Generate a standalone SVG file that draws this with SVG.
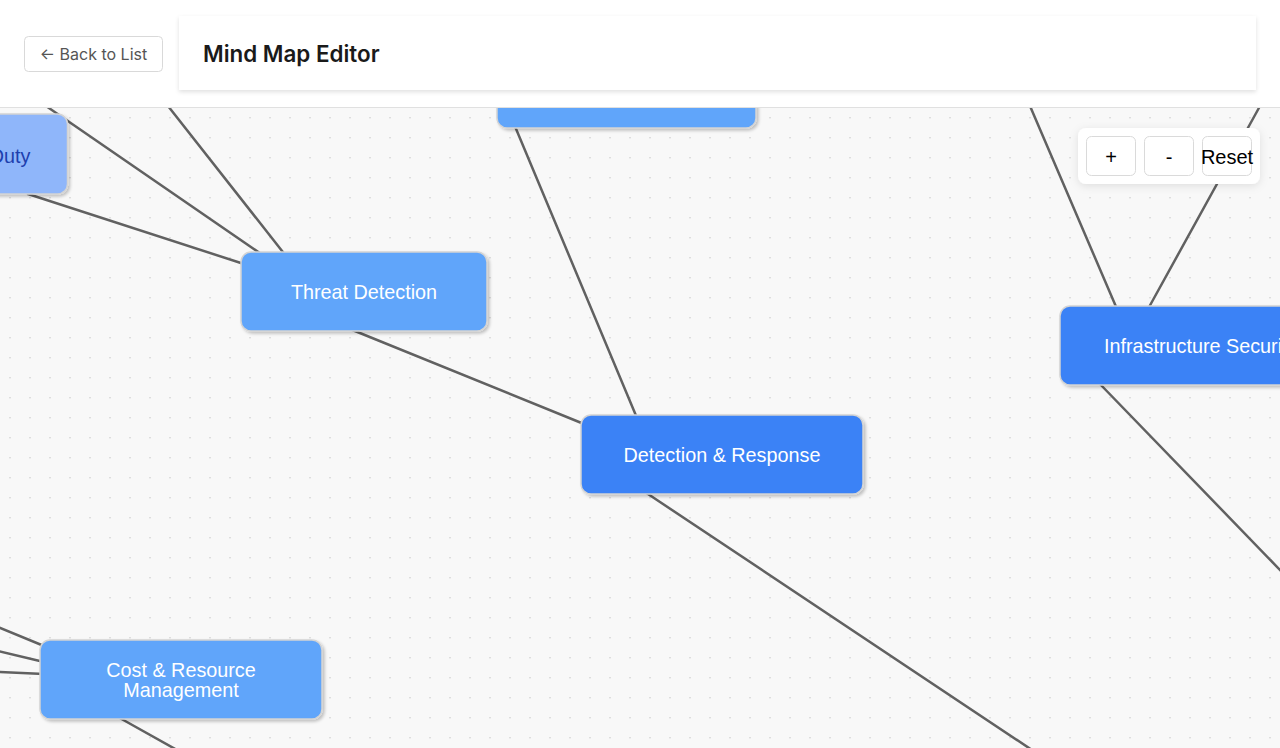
<svg xmlns="http://www.w3.org/2000/svg" width="1280" height="748" viewBox="0 0 1280 748">
  <defs>
    <pattern id="dots" x="0" y="0" width="20" height="20" patternUnits="userSpaceOnUse">
      <rect x="9.3" y="17" width="1.4" height="1.4" fill="#d2d2d2"/>
    </pattern>
    <filter id="nodeShadow" x="-10%" y="-20%" width="125%" height="150%">
      <feDropShadow dx="2" dy="2" stdDeviation="1.5" flood-color="#000" flood-opacity="0.22"/>
    </filter>
    <filter id="cardShadow" x="-5%" y="-20%" width="110%" height="160%">
      <feDropShadow dx="0" dy="2" stdDeviation="2" flood-color="#000" flood-opacity="0.12"/>
    </filter>
    <filter id="panelShadow" x="-20%" y="-30%" width="140%" height="170%">
      <feDropShadow dx="0" dy="2" stdDeviation="4" flood-color="#000" flood-opacity="0.1"/>
    </filter>
    <style>
      .edge { stroke: #616161; stroke-width: 2.5; fill: none; stroke-linecap: round; }
      .node { stroke: #d4d4d4; stroke-width: 1.5; filter: url(#nodeShadow); }
      .primary { fill: #3b82f6; }
      .secondary { fill: #60a5fa; }
      .tertiary { fill: #8fb6fa; }
      .label { font-family: "Liberation Sans", Arial, sans-serif; font-size: 19.8px; fill: #ffffff; text-anchor: middle; }
      .label-dark { font-family: "Liberation Sans", Arial, sans-serif; font-size: 19.8px; fill: #1e3fae; }
      .btn { fill: #ffffff; stroke: #dadada; stroke-width: 1; }
      .btn-text { font-family: "Liberation Sans", Arial, sans-serif; font-size: 20px; fill: #000; text-anchor: middle; }
    </style>
  </defs>

  <!-- canvas background -->
  <rect x="0" y="0" width="1280" height="748" fill="#f8f8f8"/>
  <rect x="0" y="107" width="1280" height="641" fill="url(#dots)"/>

  <!-- connectors -->
  <g id="connectors">
    <line class="edge" x1="46" y1="106" x2="264" y2="256"/>
    <line class="edge" x1="168" y1="106" x2="286" y2="256"/>
    <line class="edge" x1="28" y1="194" x2="244" y2="264"/>
    <line class="edge" x1="350" y1="329" x2="584" y2="424"/>
    <line class="edge" x1="514" y1="124" x2="637" y2="418"/>
    <line class="edge" x1="645" y1="492" x2="1032" y2="750"/>
    <line class="edge" x1="1030" y1="106" x2="1117" y2="309"/>
    <line class="edge" x1="1260" y1="106" x2="1148" y2="309"/>
    <line class="edge" x1="1099" y1="383" x2="1282" y2="572"/>
    <line class="edge" x1="-2" y1="627" x2="44" y2="646"/>
    <line class="edge" x1="-2" y1="651" x2="44" y2="662"/>
    <line class="edge" x1="-2" y1="672" x2="44" y2="674"/>
    <line class="edge" x1="118" y1="717" x2="177" y2="750"/>
  </g>

  <!-- nodes -->
  <g id="node-top">
    <rect class="node secondary" x="497" y="48" width="259" height="80" rx="10"/>
  </g>
  <g id="node-duty">
    <rect class="node tertiary" x="-200" y="114" width="267.5" height="80" rx="10"/>
    <text class="label-dark" x="30.5" y="162.5" text-anchor="end">Duty</text>
  </g>
  <g id="node-threat-detection">
    <rect class="node secondary" x="241" y="252" width="246" height="79" rx="10"/>
    <text class="label" x="364" y="299">Threat Detection</text>
  </g>
  <g id="node-detection-response">
    <rect class="node primary" x="581" y="415" width="282" height="79" rx="10"/>
    <text class="label" x="722" y="462.3">Detection &amp; Response</text>
  </g>
  <g id="node-infrastructure-security">
    <rect class="node primary" x="1060" y="306" width="280" height="79" rx="10"/>
    <text class="label" x="1104" y="353.3" text-anchor="start" style="text-anchor:start">Infrastructure Security</text>
  </g>
  <g id="node-cost-resource">
    <rect class="node secondary" x="40" y="640" width="282" height="79" rx="10"/>
    <text class="label" x="181" y="677.3">Cost &amp; Resource</text>
    <text class="label" x="181" y="697.3">Management</text>
  </g>

  <!-- header -->
  <g id="header">
    <rect x="0" y="0" width="1280" height="107" fill="#ffffff"/>
    <line x1="0" y1="107.5" x2="1280" y2="107.5" stroke="#e0e0e0" stroke-width="1"/>
    <g id="back-button">
      <rect x="24.5" y="36.5" width="138" height="35" rx="4" fill="#ffffff" stroke="#d9d9d9" stroke-width="1"/>
      <text x="93.5" y="60" font-family="Inter, 'Noto Sans', sans-serif" font-size="16" fill="#555555" text-anchor="middle">← Back to List</text>
    </g>
    <g id="title-card">
      <rect x="179" y="16" width="1077" height="74" fill="#ffffff" filter="url(#cardShadow)"/>
      <text x="203" y="61.7" font-family="Inter, 'Noto Sans', sans-serif" font-size="22.4" font-weight="600" fill="#1a1a1a">Mind Map Editor</text>
    </g>
  </g>

  <!-- zoom controls -->
  <g id="controls">
    <rect x="1078" y="128" width="182" height="56" rx="8" fill="#ffffff" filter="url(#panelShadow)"/>
    <g id="btn-zoom-in">
      <rect class="btn" x="1086.5" y="136.5" width="49" height="39" rx="5"/>
      <text class="btn-text" x="1111" y="164">+</text>
    </g>
    <g id="btn-zoom-out">
      <rect class="btn" x="1144.5" y="136.5" width="49" height="39" rx="5"/>
      <text class="btn-text" x="1169" y="164">-</text>
    </g>
    <g id="btn-reset">
      <rect class="btn" x="1202.5" y="136.5" width="49" height="39" rx="5"/>
      <text class="btn-text" x="1227" y="164">Reset</text>
    </g>
  </g>
</svg>
